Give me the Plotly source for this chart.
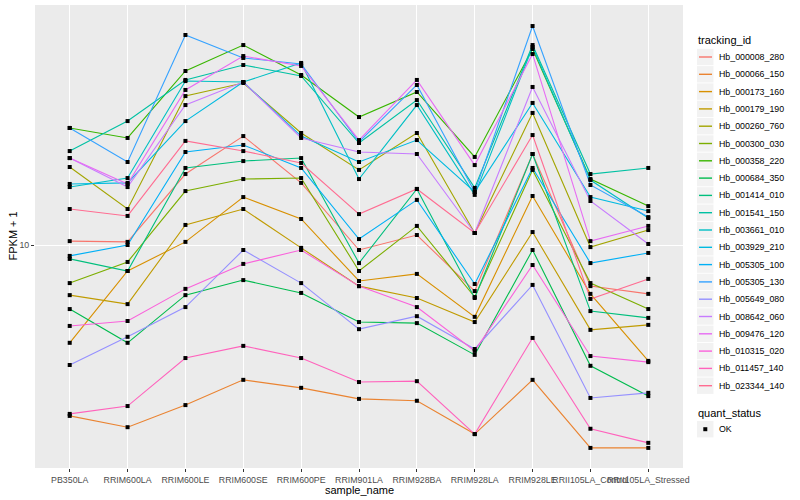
import plotly.graph_objects as go

samples = ["PB350LA", "RRIM600LA", "RRIM600LE", "RRIM600SE", "RRIM600PE",
           "RRIM901LA", "RRIM928BA", "RRIM928LA", "RRIM928LE",
           "RRII105LA_Control", "RRII105LA_Stressed"]

tracking_ids = ["Hb_000008_280", "Hb_000066_150", "Hb_000173_160", "Hb_000179_190",
                "Hb_000260_760", "Hb_000300_030", "Hb_000358_220", "Hb_000684_350",
                "Hb_001414_010", "Hb_001541_150", "Hb_003661_010", "Hb_003929_210",
                "Hb_005305_100", "Hb_005305_130", "Hb_005649_080", "Hb_008642_060",
                "Hb_009476_120", "Hb_010315_020", "Hb_011457_140", "Hb_023344_140"]

colors = ["#F8766D", "#EA8331", "#D89000", "#C09B00", "#A3A500", "#7CAE00", "#39B600",
          "#00BB4E", "#00BF7D", "#00C1A3", "#00BFC4", "#00BAE0", "#00B0F6", "#35A2FF",
          "#9590FF", "#C77CFF", "#E76BF3", "#FA62DB", "#FF62BC", "#FF6C91"]

# FPKM + 1 per sample
hb_000008_280 = [10.15, 10.12, 13.13, 15.19, 12.69, 9.81, 10.39, 8.38, 14.18, 8.54, 8.29]
hb_000066_150 = [5.19, 4.97, 5.41, 5.96, 5.78, 5.54, 5.50, 4.84, 5.96, 4.59, 4.59]
hb_000173_160 = [6.87, 9.05, 10.12, 12.02, 11.05, 8.71, 8.95, 7.59, 12.07, 8.29, 6.41]
hb_000179_190 = [8.25, 7.97, 10.80, 11.48, 9.89, 8.54, 8.16, 7.44, 10.51, 7.22, 7.36]
hb_000260_760 = [13.49, 11.48, 17.71, 18.62, 15.37, 13.34, 15.37, 10.47, 16.60, 9.92, 10.59]
hb_000300_030 = [8.64, 9.37, 12.30, 12.88, 12.93, 9.05, 10.76, 8.19, 13.34, 8.64, 7.82]
hb_000358_220 = [15.67, 15.08, 19.50, 21.54, 19.20, 16.34, 17.99, 14.02, 21.22, 12.88, 11.61]
hb_000684_350 = [7.82, 6.87, 8.25, 8.74, 8.32, 7.44, 7.41, 6.56, 9.81, 6.29, 5.60]
hb_001414_010 = [9.48, 9.05, 13.44, 13.80, 13.96, 9.33, 12.40, 8.16, 14.18, 7.76, 7.56]
hb_001541_150 = [14.34, 16.09, 18.84, 19.95, 19.13, 14.79, 17.44, 12.45, 21.54, 13.13, 13.44]
hb_003661_010 = [12.49, 12.93, 18.76, 18.69, 20.11, 12.88, 17.11, 12.12, 21.38, 12.83, 11.09]
hb_003929_210 = [12.64, 12.69, 16.09, 18.69, 15.19, 13.75, 14.96, 12.26, 17.25, 12.02, 11.39]
hb_005305_100 = [9.59, 10.00, 14.29, 14.68, 13.44, 10.23, 11.89, 8.61, 13.44, 9.33, 9.70]
hb_005305_130 = [15.67, 13.75, 22.39, 20.50, 20.03, 14.85, 18.48, 12.26, 23.17, 12.59, 11.13]
hb_005649_080 = [6.31, 7.03, 7.88, 9.81, 8.64, 7.24, 7.61, 6.71, 8.58, 5.56, 5.67]
hb_008642_060 = [13.96, 12.49, 17.11, 18.69, 15.08, 14.29, 14.18, 10.47, 18.34, 11.84, 10.04]
hb_009476_120 = [13.96, 12.64, 18.13, 20.65, 19.88, 14.96, 18.84, 13.59, 20.81, 10.15, 10.76]
hb_010315_020 = [7.33, 7.47, 8.45, 9.30, 9.81, 8.54, 7.88, 6.66, 9.26, 6.53, 6.38]
hb_011457_140 = [5.23, 5.39, 6.48, 6.79, 6.48, 5.91, 5.93, 4.84, 7.00, 4.94, 4.68]
hb_023344_140 = [11.48, 11.18, 14.91, 14.34, 13.70, 11.26, 12.40, 10.47, 15.25, 8.13, 8.78]

series_values = [hb_000008_280, hb_000066_150, hb_000173_160, hb_000179_190,
                 hb_000260_760, hb_000300_030, hb_000358_220, hb_000684_350,
                 hb_001414_010, hb_001541_150, hb_003661_010, hb_003929_210,
                 hb_005305_100, hb_005305_130, hb_005649_080, hb_008642_060,
                 hb_009476_120, hb_010315_020, hb_011457_140, hb_023344_140]

quant_status = "OK"
y_ticks = [10]
y_tick_labels = ["10"]

# ---- geometry (pixels) ----
W, H = 800, 500
L, R, T, B = 35, 117, 5, 32
PW, PH = W - L - R, H - T - B

def px(x):
    return (x - L) / PW

def py(y):
    return (H - B - y) / PH

FONT = "Liberation Sans, Arial, Helvetica, sans-serif"

fig = go.Figure()

for name, col, vals in zip(tracking_ids, colors, series_values):
    fig.add_trace(go.Scatter(x=samples, y=vals, mode="lines", name=name,
                             line=dict(color=col, width=1.1), showlegend=False,
                             hoverinfo="x+y+name"))

all_x, all_y = [], []
for vals in series_values:
    all_x += samples
    all_y += vals
fig.add_trace(go.Scatter(x=all_x, y=all_y, mode="markers", name=quant_status,
                         marker=dict(symbol="square", size=4, color="black"),
                         showlegend=False))

shapes = []
annotations = []

# manual legend: tracking_id
annotations.append(dict(x=px(696), y=py(40.5), xref="paper", yref="paper",
                        text="tracking_id", showarrow=False, xanchor="left",
                        yanchor="middle", font=dict(size=11, color="black", family=FONT)))
for i, (name, col) in enumerate(zip(tracking_ids, colors)):
    yc = 57 + i * 17.3
    shapes.append(dict(type="rect", xref="paper", yref="paper",
                       x0=px(697), x1=px(713.5), y0=py(yc - 8.2), y1=py(yc + 8.2),
                       fillcolor="#F2F2F2", line=dict(width=0), layer="above"))
    shapes.append(dict(type="line", xref="paper", yref="paper",
                       x0=px(699), x1=px(712), y0=py(yc), y1=py(yc),
                       line=dict(color=col, width=1.4), layer="above"))
    annotations.append(dict(x=px(716.5), y=py(yc), xref="paper", yref="paper",
                            text=name, showarrow=False, xanchor="left", yanchor="middle",
                            font=dict(size=8.8, color="black", family=FONT)))

# manual legend: quant_status
annotations.append(dict(x=px(696), y=py(412.5), xref="paper", yref="paper",
                        text="quant_status", showarrow=False, xanchor="left",
                        yanchor="middle", font=dict(size=11, color="black", family=FONT)))
shapes.append(dict(type="rect", xref="paper", yref="paper",
                   x0=px(697), x1=px(713.5), y0=py(421), y1=py(437.4),
                   fillcolor="#F2F2F2", line=dict(width=0), layer="above"))
shapes.append(dict(type="rect", xref="paper", yref="paper",
                   x0=px(703.3), x1=px(707.3), y0=py(427.2), y1=py(431.2),
                   fillcolor="black", line=dict(width=0), layer="above"))
annotations.append(dict(x=px(716.5), y=py(429.2), xref="paper", yref="paper",
                        text=quant_status, showarrow=False, xanchor="left", yanchor="middle",
                        font=dict(size=8.8, color="black", family=FONT)))

# axis titles
annotations.append(dict(x=px(359), y=py(489.5), xref="paper", yref="paper",
                        text="sample_name", showarrow=False, xanchor="center",
                        yanchor="middle", font=dict(size=11, color="black", family=FONT)))
annotations.append(dict(x=px(12), y=py(236.5), xref="paper", yref="paper",
                        text="FPKM + 1", showarrow=False, textangle=-90, xanchor="center",
                        yanchor="middle", font=dict(size=11, color="black", family=FONT)))

fig.update_layout(
    width=W, height=H,
    margin=dict(l=L, r=R, t=T, b=B, autoexpand=False),
    paper_bgcolor="white",
    plot_bgcolor="#EBEBEB",
    font=dict(family=FONT, size=8.8, color="#4D4D4D"),
    shapes=shapes,
    annotations=annotations,
    showlegend=False,
    xaxis=dict(type="category", categoryorder="array", categoryarray=samples,
               range=[-0.6, len(samples) - 0.4], showgrid=True, gridcolor="white",
               gridwidth=1.1, zeroline=False, showline=False, ticks="outside",
               ticklen=3, tickwidth=1, tickcolor="#333333", tickangle=0,
               automargin=False,
               tickfont=dict(size=8.8, color="#4D4D4D", family=FONT), fixedrange=True),
    yaxis=dict(type="log", range=[0.62833, 1.4], tickvals=y_ticks, ticktext=y_tick_labels,
               showgrid=True, gridcolor="white", gridwidth=1.1, zeroline=False,
               showline=False, ticks="outside", ticklen=3, tickwidth=1, automargin=False,
               tickcolor="#333333", tickfont=dict(size=8.8, color="#4D4D4D", family=FONT),
               fixedrange=True),
)

fig.write_html("out.html", config={"displayModeBar": False},
               post_script="document.body.style.margin='0px';document.body.style.padding='0px';")
